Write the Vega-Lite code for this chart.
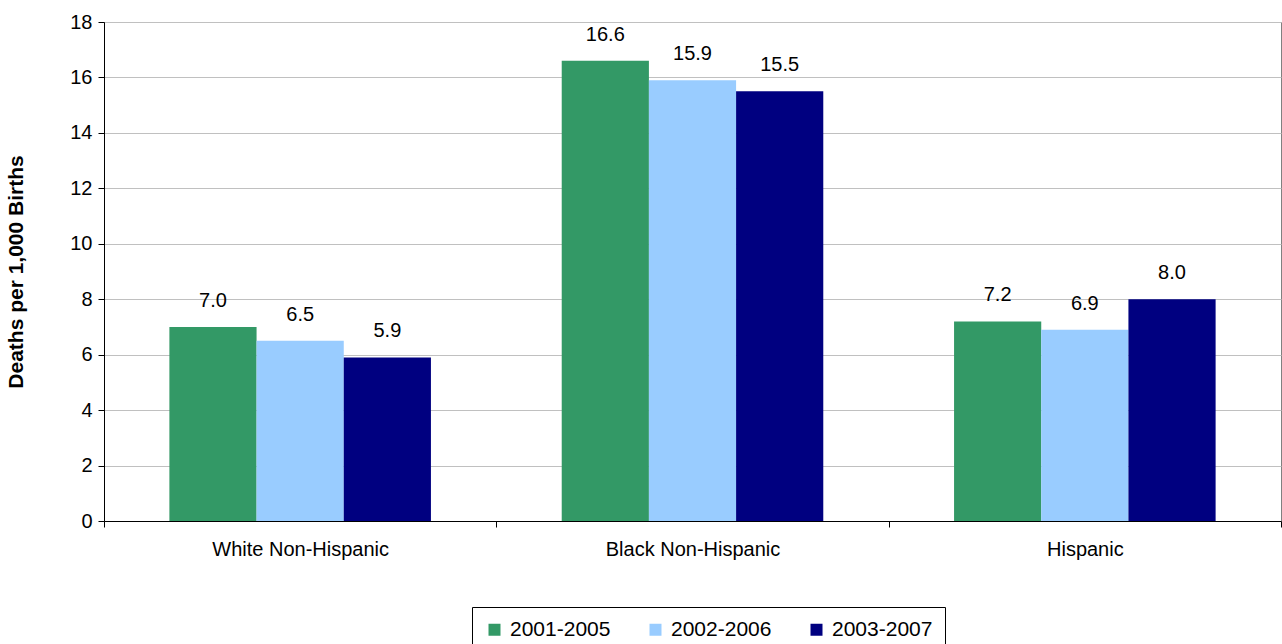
{
  "$schema": "https://vega.github.io/schema/vega-lite/v6.json",
  "background": "#ffffff",
  "autosize": {"type": "none"},
  "padding": {"left": 104, "top": 22, "right": 1, "bottom": 123},
  "width": 1177,
  "height": 499,
  "config": {
    "font": "Liberation Sans",
    "view": {"stroke": "#808080", "strokeWidth": 1}
  },
  "data": {
    "values": [
      {"group": "White Non-Hispanic", "period": "2001-2005", "rate": 7.0},
      {"group": "White Non-Hispanic", "period": "2002-2006", "rate": 6.5},
      {"group": "White Non-Hispanic", "period": "2003-2007", "rate": 5.9},
      {"group": "Black Non-Hispanic", "period": "2001-2005", "rate": 16.6},
      {"group": "Black Non-Hispanic", "period": "2002-2006", "rate": 15.9},
      {"group": "Black Non-Hispanic", "period": "2003-2007", "rate": 15.5},
      {"group": "Hispanic", "period": "2001-2005", "rate": 7.2},
      {"group": "Hispanic", "period": "2002-2006", "rate": 6.9},
      {"group": "Hispanic", "period": "2003-2007", "rate": 8.0}
    ]
  },
  "encoding": {
    "x": {
      "field": "group",
      "type": "nominal",
      "sort": ["White Non-Hispanic", "Black Non-Hispanic", "Hispanic"],
      "scale": {"paddingInner": 0, "paddingOuter": 0},
      "axis": {
        "title": null,
        "labelAngle": 0,
        "labelFontSize": 20,
        "labelColor": "#000000",
        "labelPadding": 12,
        "tickBand": "extent",
        "tickSize": 6,
        "tickColor": "#000000",
        "domainColor": "#000000",
        "grid": false
      }
    },
    "xOffset": {
      "field": "period",
      "type": "nominal",
      "scale": {"paddingInner": 0, "paddingOuter": 0.75}
    },
    "y": {
      "field": "rate",
      "type": "quantitative",
      "scale": {"domain": [0, 18], "nice": false},
      "axis": {
        "title": "Deaths per 1,000 Births",
        "titleFontSize": 21,
        "titleFontWeight": "bold",
        "titleColor": "#000000",
        "titlePadding": 43,
        "values": [0, 2, 4, 6, 8, 10, 12, 14, 16, 18],
        "labelFontSize": 20,
        "labelColor": "#000000",
        "labelPadding": 6,
        "tickSize": 6,
        "tickColor": "#000000",
        "domainColor": "#000000",
        "gridColor": "#c0c0c0"
      }
    }
  },
  "layer": [
    {
      "mark": {"type": "bar"},
      "encoding": {
        "color": {
          "field": "period",
          "type": "nominal",
          "scale": {
            "domain": ["2001-2005", "2002-2006", "2003-2007"],
            "range": ["#339966", "#99ccff", "#000080"]
          },
          "legend": {
            "title": null,
            "orient": "none",
            "legendX": 368,
            "legendY": 585,
            "direction": "horizontal",
            "symbolType": "square",
            "symbolSize": 144,
            "symbolStrokeWidth": 0,
            "labelFontSize": 21,
            "labelColor": "#000000",
            "labelOffset": 5,
            "columnPadding": 34,
            "padding": 12,
            "strokeColor": "#000000",
            "fillColor": "#ffffff"
          }
        }
      }
    },
    {
      "mark": {"type": "text", "baseline": "alphabetic", "dy": -20, "fontSize": 20, "color": "#000000"},
      "encoding": {
        "text": {"field": "rate", "type": "quantitative", "format": ".1f"}
      }
    }
  ]
}
